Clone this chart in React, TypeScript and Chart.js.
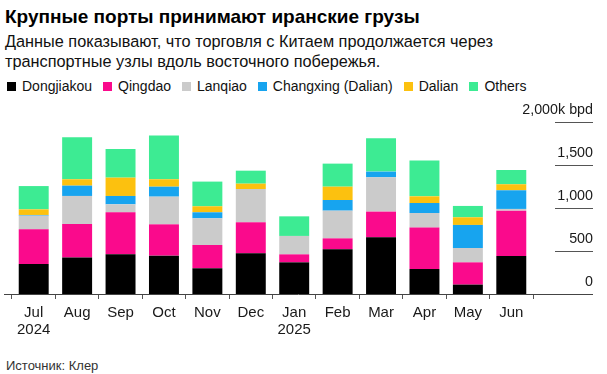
import React, { useEffect, useRef } from "react";
import { Chart, registerables } from "chart.js";

Chart.register(...registerables);

const months = ["Jul", "Aug", "Sep", "Oct", "Nov", "Dec", "Jan", "Feb", "Mar", "Apr", "May", "Jun"];
const yearLabels = ["2024", "", "", "", "", "", "2025", "", "", "", "", ""];

const dongjiakou = [349, 423, 461, 446, 299, 473, 368, 520, 659, 291, 109, 442];
const qingdao = [403, 391, 489, 364, 271, 361, 93, 127, 299, 481, 259, 527];
const lanqiao = [159, 326, 93, 322, 310, 387, 214, 322, 399, 170, 167, 20];
const changxing = [8, 120, 97, 116, 70, 0, 0, 124, 66, 116, 268, 217];
const dalian = [65, 74, 213, 86, 70, 62, 0, 155, 0, 78, 89, 70];
const others = [271, 488, 333, 508, 287, 151, 228, 268, 388, 415, 132, 166];

const seriesNames = ["Dongjiakou", "Qingdao", "Lanqiao", "Changxing (Dalian)", "Dalian", "Others"];
const seriesColors = ["#000000", "#fa0a8c", "#cbcbcb", "#17a4ef", "#fcc10f", "#3deb93"];

const yTicks = [0, 500, 1000, 1500, 2000];
const yTickLabels = ["0", "500", "1,000", "1,500", "2,000k bpd"];

const FONT = '"Liberation Sans", Arial, sans-serif';

export default function App() {
  const ref = useRef<HTMLCanvasElement>(null);

  useEffect(() => {
    if (!ref.current) return;
    const labels = months.map((m, i) => (yearLabels[i] ? [m, yearLabels[i]] : m));
    const seriesData = [dongjiakou, qingdao, lanqiao, changxing, dalian, others];

    const axisPlugin = {
      id: "customAxis",
      afterDraw(chart: any) {
        const ctx = chart.ctx;
        const y = chart.scales.y;
        const area = chart.chartArea;
        ctx.save();
        ctx.strokeStyle = "#555555";
        ctx.lineWidth = 1;
        ctx.fillStyle = "#1a1a1a";
        ctx.font = `14.3px ${FONT}`;
        ctx.textAlign = "right";
        ctx.textBaseline = "alphabetic";
        yTicks.forEach((v, i) => {
          const py = Math.round(y.getPixelForValue(v)) + 0.5;
          if (v !== 0) {
            ctx.beginPath();
            ctx.moveTo(555, py);
            ctx.lineTo(593, py);
            ctx.stroke();
          }
          ctx.fillText(yTickLabels[i], 593, py - 9);
        });
        const by = Math.round(area.bottom) + 0.5;
        ctx.strokeStyle = "#444444";
        ctx.beginPath();
        ctx.moveTo(4, by);
        ctx.lineTo(593, by);
        ctx.stroke();
        ctx.restore();
      },
    };

    const chart = new Chart(ref.current, {
      type: "bar",
      data: {
        labels,
        datasets: seriesData.map((d, i) => ({
          label: seriesNames[i],
          data: d,
          backgroundColor: seriesColors[i],
          borderWidth: 0,
          barPercentage: 0.69,
          categoryPercentage: 1.0,
        })),
      },
      options: {
        responsive: false,
        animation: false,
        layout: { padding: { left: 12, right: 74, top: 27, bottom: 0 } },
        plugins: { legend: { display: false }, tooltip: { enabled: false } },
        scales: {
          x: {
            stacked: true,
            grid: { display: true, drawOnChartArea: false, drawTicks: true, tickLength: 5, color: "#555555" },
            border: { display: false },
            ticks: {
              color: "#1a1a1a",
              font: { family: FONT, size: 15, lineHeight: 17 / 15 },
              padding: 5,
              maxRotation: 0,
              autoSkip: false,
            },
            afterFit(scale: any) {
              scale.height = 51;
            },
          },
          y: {
            stacked: true,
            display: false,
            min: 0,
            max: 2000,
          },
        },
      },
      plugins: [axisPlugin],
    });
    return () => chart.destroy();
  }, []);

  const legendItem = (name: string, color: string) => (
    <div key={name} style={{ display: "flex", alignItems: "center", marginRight: 11 }}>
      <span style={{ display: "inline-block", width: 9, height: 9, background: color, marginRight: 6 }} />
      <span>{name}</span>
    </div>
  );

  return (
    <div style={{ position: "absolute", left: 0, top: 0, width: 607, height: 374, background: "#fff", fontFamily: FONT, color: "#111" }}>
      <div style={{ position: "absolute", left: 5, top: 6, fontSize: 19, lineHeight: "22px", fontWeight: "bold", whiteSpace: "nowrap", color: "#000" }}>
        Крупные порты принимают иранские грузы
      </div>
      <div style={{ position: "absolute", left: 5, top: 31, fontSize: 16.3, lineHeight: "20px", color: "#111", whiteSpace: "nowrap" }}>
        Данные показывают, что торговля с Китаем продолжается через
        <br />
        транспортные узлы вдоль восточного побережья.
      </div>
      <div style={{ position: "absolute", left: 7, top: 78, fontSize: 14, lineHeight: "16px", display: "flex", whiteSpace: "nowrap", color: "#111" }}>
        {seriesNames.map((n, i) => legendItem(n, seriesColors[i]))}
      </div>
      <canvas ref={ref} width={607} height={250} style={{ position: "absolute", left: 0, top: 95, width: 607, height: 250 }} />
      <div style={{ position: "absolute", left: 6, top: 358, fontSize: 13, lineHeight: "15px", color: "#333", whiteSpace: "nowrap" }}>
        Источник: Клер
      </div>
    </div>
  );
}
